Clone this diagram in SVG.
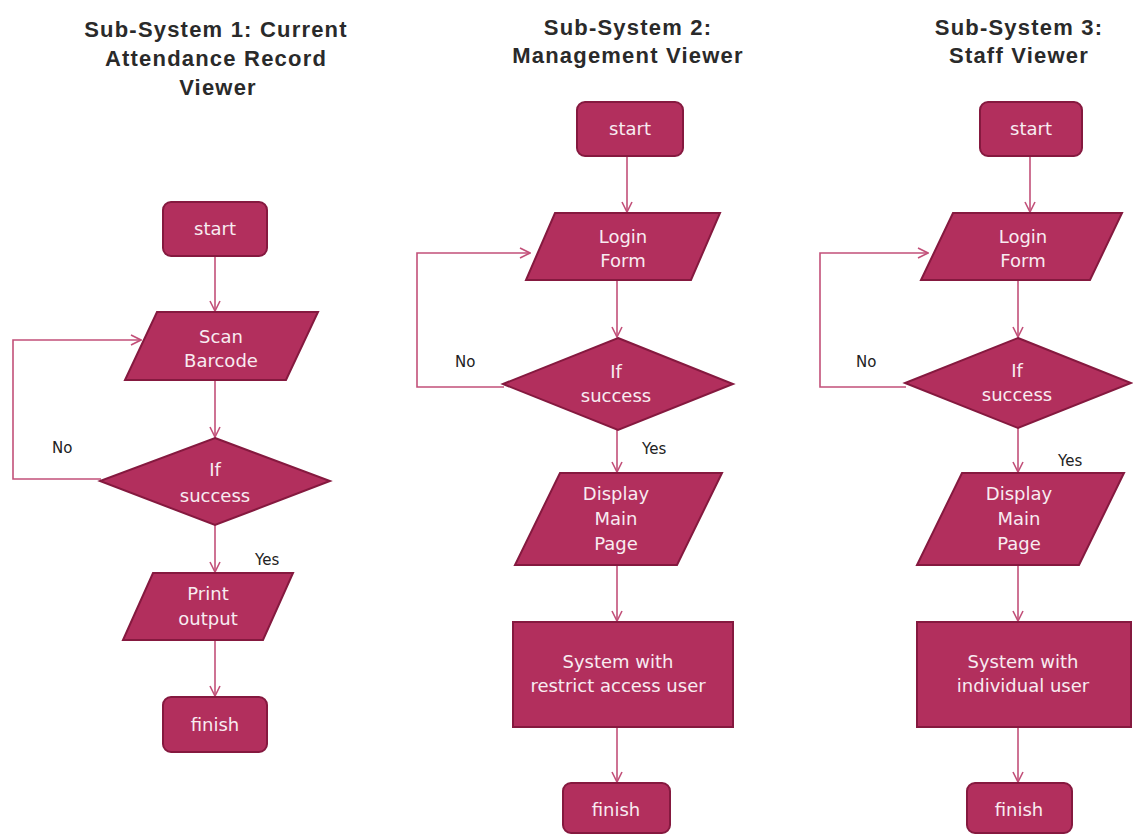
<svg xmlns="http://www.w3.org/2000/svg" width="1133" height="834" viewBox="0 0 1133 834">
<style>
.bg{fill:#ffffff}
.title{font-family:"Liberation Sans",Arial,sans-serif;font-weight:bold;font-size:22px;letter-spacing:1.2px;fill:#2a2a2a;text-anchor:middle}
.shape{fill:#B22F5D;stroke:#85193F;stroke-width:2}
.nt{font-family:"DejaVu Sans",sans-serif;font-size:18px;fill:#F8ECF1;text-anchor:middle}
.lbl{font-family:"DejaVu Sans",sans-serif;font-size:15px;fill:#222222}
.conn{fill:none;stroke:#C25079;stroke-width:1.6}
</style>
<defs>
<marker id="arr" markerUnits="userSpaceOnUse" viewBox="0 0 12 12" refX="11" refY="6" markerWidth="12" markerHeight="12" orient="auto">
<path d="M1,1 L11,6 L1,11" fill="none" stroke="#C25079" stroke-width="1.6"/>
</marker>
</defs>
<rect class="bg" x="0" y="0" width="1133" height="834"/>

<g id="titles">
<text class="title" x="216" y="37">Sub-System 1: Current</text>
<text class="title" x="216" y="66">Attendance Record</text>
<text class="title" x="218" y="95">Viewer</text>
<text class="title" x="628" y="35">Sub-System 2:</text>
<text class="title" x="628" y="63">Management Viewer</text>
<text class="title" x="1019" y="35">Sub-System 3:</text>
<text class="title" x="1019" y="63">Staff Viewer</text>
</g>

<g id="connectors">
<!-- column 1 -->
<path class="conn" d="M215,256 L215,311" marker-end="url(#arr)"/>
<path class="conn" d="M215,380 L215,437" marker-end="url(#arr)"/>
<path class="conn" d="M101,479 L13,479 L13,340 L141,340" marker-end="url(#arr)"/>
<path class="conn" d="M215,525 L215,572" marker-end="url(#arr)"/>
<path class="conn" d="M215,640 L215,696" marker-end="url(#arr)"/>
<!-- column 2 -->
<path class="conn" d="M627,156 L627,212" marker-end="url(#arr)"/>
<path class="conn" d="M617,280 L617,337" marker-end="url(#arr)"/>
<path class="conn" d="M504,387 L417,387 L417,253 L530,253" marker-end="url(#arr)"/>
<path class="conn" d="M617,430 L617,472" marker-end="url(#arr)"/>
<path class="conn" d="M617,565 L617,621" marker-end="url(#arr)"/>
<path class="conn" d="M617,727 L617,782" marker-end="url(#arr)"/>
<!-- column 3 -->
<path class="conn" d="M1030,156 L1030,212" marker-end="url(#arr)"/>
<path class="conn" d="M1018,280 L1018,337" marker-end="url(#arr)"/>
<path class="conn" d="M906,387 L820,387 L820,253 L928,253" marker-end="url(#arr)"/>
<path class="conn" d="M1018,428 L1018,472" marker-end="url(#arr)"/>
<path class="conn" d="M1018,565 L1018,621" marker-end="url(#arr)"/>
<path class="conn" d="M1018,727 L1018,782" marker-end="url(#arr)"/>
</g>

<g id="labels">
<text class="lbl" x="52" y="453">No</text>
<text class="lbl" x="255" y="565">Yes</text>
<text class="lbl" x="455" y="367">No</text>
<text class="lbl" x="642" y="454">Yes</text>
<text class="lbl" x="856" y="367">No</text>
<text class="lbl" x="1058" y="466">Yes</text>
</g>

<!-- Column 1 -->
<g id="c1-start">
<rect class="shape" x="163" y="202" width="104" height="54" rx="8"/>
<text class="nt" x="215" y="235">start</text>
</g>
<g id="c1-scan">
<polygon class="shape" points="157,312 318,312 286,380 125,380"/>
<text class="nt" x="221" y="343">Scan</text>
<text class="nt" x="221" y="367">Barcode</text>
</g>
<g id="c1-if">
<polygon class="shape" points="215,438 330,481 215,525 100,481"/>
<text class="nt" x="215" y="476">If</text>
<text class="nt" x="215" y="502">success</text>
</g>
<g id="c1-print">
<polygon class="shape" points="153,573 293,573 263,640 123,640"/>
<text class="nt" x="208" y="600">Print</text>
<text class="nt" x="208" y="625">output</text>
</g>
<g id="c1-finish">
<rect class="shape" x="163" y="697" width="104" height="55" rx="8"/>
<text class="nt" x="215" y="731">finish</text>
</g>

<!-- Column 2 -->
<g id="c2-start">
<rect class="shape" x="577" y="102" width="106" height="54" rx="8"/>
<text class="nt" x="630" y="135">start</text>
</g>
<g id="c2-login">
<polygon class="shape" points="555,213 720,213 691,280 526,280"/>
<text class="nt" x="623" y="243">Login</text>
<text class="nt" x="623" y="267">Form</text>
</g>
<g id="c2-if">
<polygon class="shape" points="618,338 733,384 618,430 503,384"/>
<text class="nt" x="616" y="378">If</text>
<text class="nt" x="616" y="402">success</text>
</g>
<g id="c2-display">
<polygon class="shape" points="560,473 722,473 677,565 515,565"/>
<text class="nt" x="616" y="500">Display</text>
<text class="nt" x="616" y="525">Main</text>
<text class="nt" x="616" y="550">Page</text>
</g>
<g id="c2-system">
<rect class="shape" x="513" y="622" width="220" height="105"/>
<text class="nt" x="618" y="668">System with</text>
<text class="nt" x="618" y="692">restrict access user</text>
</g>
<g id="c2-finish">
<rect class="shape" x="563" y="783" width="107" height="50" rx="8"/>
<text class="nt" x="616" y="816">finish</text>
</g>

<!-- Column 3 -->
<g id="c3-start">
<rect class="shape" x="980" y="102" width="102" height="54" rx="8"/>
<text class="nt" x="1031" y="135">start</text>
</g>
<g id="c3-login">
<polygon class="shape" points="953,213 1122,213 1090,280 921,280"/>
<text class="nt" x="1023" y="243">Login</text>
<text class="nt" x="1023" y="267">Form</text>
</g>
<g id="c3-if">
<polygon class="shape" points="1018,338 1131,383 1018,428 905,383"/>
<text class="nt" x="1017" y="377">If</text>
<text class="nt" x="1017" y="401">success</text>
</g>
<g id="c3-display">
<polygon class="shape" points="962,473 1124,473 1079,565 917,565"/>
<text class="nt" x="1019" y="500">Display</text>
<text class="nt" x="1019" y="525">Main</text>
<text class="nt" x="1019" y="550">Page</text>
</g>
<g id="c3-system">
<rect class="shape" x="917" y="622" width="214" height="105"/>
<text class="nt" x="1023" y="668">System  with</text>
<text class="nt" x="1023" y="692">individual user</text>
</g>
<g id="c3-finish">
<rect class="shape" x="967" y="783" width="105" height="50" rx="8"/>
<text class="nt" x="1019" y="816">finish</text>
</g>
</svg>
